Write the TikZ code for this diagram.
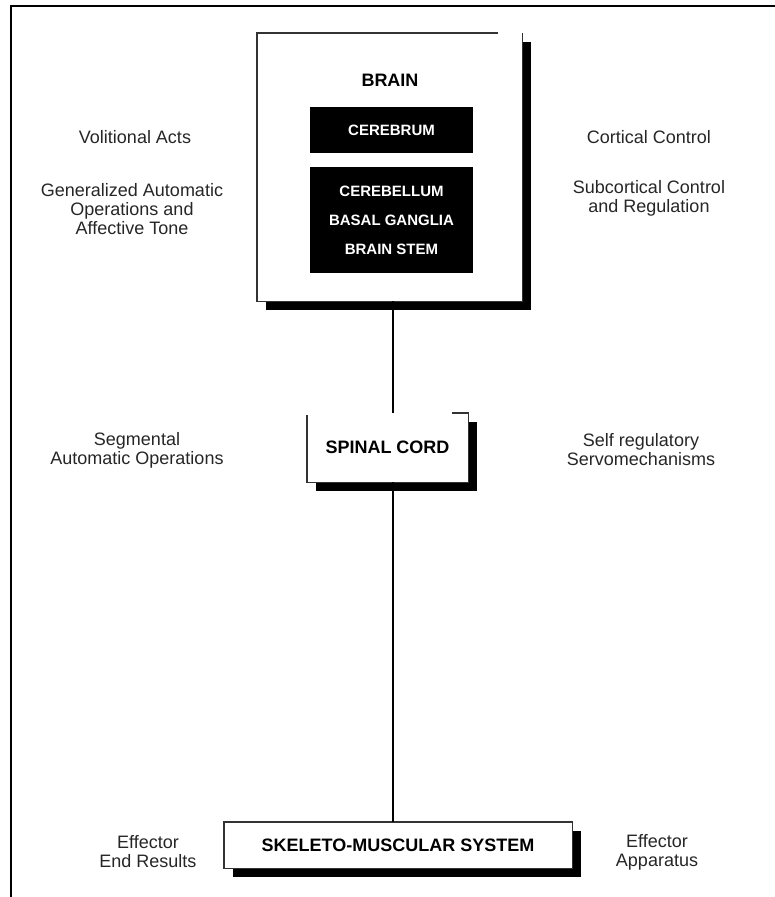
\documentclass[tikz,border=0pt]{standalone}
\usepackage{fontspec}
\setmainfont{Liberation Sans}
\usetikzlibrary{shadows,calc}

\tikzset{
  box/.style={fill=white, inner sep=0pt,
    drop shadow={shadow xshift=9pt, shadow yshift=-9pt, fill=black, opacity=1}},
  rim/.style={line width=1.4pt, draw=black!80},
  inbox/.style={fill=black, text=white, inner sep=0pt, align=center,
    font=\bfseries\fontsize{15}{29}\selectfont},
  side/.style={align=center, text=black!85, font=\fontsize{18}{19}\selectfont},
  title/.style={font=\bfseries\fontsize{18}{20}\selectfont},
}

\begin{document}
\begin{tikzpicture}[x=1pt,y=-1pt]
	\useasboundingbox (0,0) rectangle (775,897);

	% outer frame
	\draw [line width=2.5pt] (11,897) -- (11,6) -- (775,6);

	\coordinate (axis) at (393,0);

	% boxes
	\node [box, minimum width=265pt, minimum height=268pt] (brain) at (389.5,167) {};
	\node [box, minimum width=161pt, minimum height=69pt] (spine) at (387.5,447.5) {};
	\node [box, minimum width=348pt, minimum height=46pt] (skel) at (398,845) {};

	\node [title] (braintxt) at (390,80) {BRAIN};
	\node [inbox, minimum width=163pt, minimum height=46pt] (cerebrum) at (391.5,130) {CEREBRUM};
	\node [inbox, minimum width=163pt, minimum height=106pt] (lower) at (391.5,220)
		{CEREBELLUM\\BASAL GANGLIA\\BRAIN STEM};
	\node [title] (spinetxt) at (spine) {SPINAL CORD};
	\node [title] (skeltxt) at (skel) {SKELETO-MUSCULAR SYSTEM};

	% box edges
	\draw [rim] ($(brain.north east)+(-24,0)$) -- (brain.north west) -- (brain.south west)
		-- (brain.south east) -- (brain.north east);
	\draw [rim] ($(spine.north east)+(-16,0)$) -- (spine.north east) -- (spine.south east)
		-- (spine.south west) -- ($(spine.north west)+(0,2)$);
	\draw [rim] (skel.north west) rectangle (skel.south east);

	% connectors
	\draw [line width=1.4pt] (brain.south -| axis) -- (spine.north -| axis);
	\draw [line width=1.4pt] (spine.south -| axis) -- (skel.north -| axis);

	% left column
	\node [side] (volitional) at (135,137) {Volitional Acts};
	\node [side] (general) at (132,209) {Generalized Automatic\\Operations and\\Affective Tone};
	\node [side] (segmental) at (137,450) {Segmental\\Automatic Operations};
	\node [side] (endres) at (148,852) {Effector\\End Results};

	% right column
	\node [side] (cortical) at (649,137) {Cortical Control};
	\node [side] (subcort) at (649,198) {Subcortical Control\\and Regulation};
	\node [side] (servo) at (641,450) {Self regulatory\\Servomechanisms};
	\node [side] (apparatus) at (657,852) {Effector\\Apparatus};
\end{tikzpicture}
\end{document}
